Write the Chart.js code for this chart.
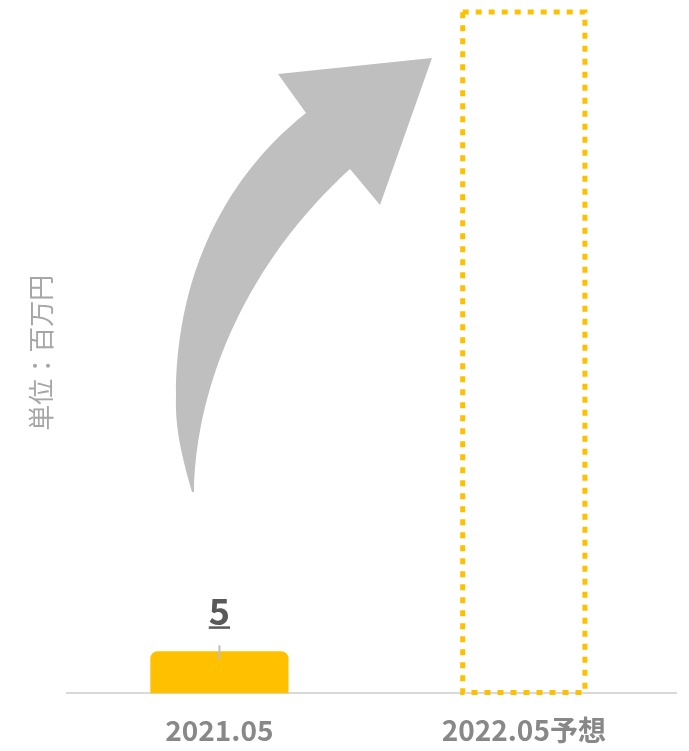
<!DOCTYPE html>
<html>
<head>
<meta charset="utf-8">
<script src="https://cdn.jsdelivr.net/npm/chart.js@4"></script>
<style>
  html, body { margin: 0; padding: 0; background: #fff; overflow: hidden; }
  canvas { display: block; }
</style>
</head>
<body>
<canvas id="chart" width="689" height="751"></canvas>
<script>
// データ
const categories = ["2021.05", "2022.05予想"];
const values = [5, 81];
const valueLabels = ["5", ""];
const yAxisTitle = "単位：百万円";

const GOLD = "#FFC000";
const FONT = "'Noto Sans CJK JP', 'Noto Sans', sans-serif";

/** 2本目（予想）を点線の枠で描く */
const dashedBarPlugin = {
  id: "dashedBar",
  afterDatasetsDraw(chart) {
    const meta = chart.getDatasetMeta(0);
    const el = meta.data[1];
    if (!el) return;
    const { x, y, base, width } = el.getProps(["x", "y", "base", "width"], true);
    const ctx = chart.ctx;
    const inset = 8;
    ctx.save();
    ctx.strokeStyle = GOLD;
    ctx.lineWidth = 5;
    ctx.setLineDash([6, 7]);
    ctx.strokeRect(x - width / 2 + inset, y, width - inset * 2, base - 1 - y);
    ctx.restore();
  },
};

/** 値ラベル（下線付き）と引き出し線 */
const valueLabelPlugin = {
  id: "valueLabel",
  afterDatasetsDraw(chart) {
    const meta = chart.getDatasetMeta(0);
    const ctx = chart.ctx;
    meta.data.forEach((el, i) => {
      const text = valueLabels[i];
      if (!text) return;
      const { x, y } = el.getProps(["x", "y"], true);
      ctx.save();
      // 引き出し線
      ctx.strokeStyle = "#bfbfbf";
      ctx.lineWidth = 2;
      ctx.beginPath();
      ctx.moveTo(x, y - 6);
      ctx.lineTo(x, y + 8);
      ctx.stroke();
      // ラベル
      ctx.fillStyle = "#595959";
      ctx.font = "bold 36px " + FONT;
      ctx.textAlign = "center";
      ctx.textBaseline = "alphabetic";
      const by = y - 26;
      ctx.fillText(text, x, by);
      const w = ctx.measureText(text).width;
      ctx.fillRect(x - w / 2, by + 1, w, 2.5);
      ctx.restore();
    });
  },
};

/** 灰色の曲がった矢印 */
const arrowPlugin = {
  id: "curvedArrow",
  beforeDatasetsDraw(chart) {
    const ctx = chart.ctx;
    ctx.save();
    ctx.fillStyle = "#bfbfbf";
    ctx.beginPath();
    ctx.moveTo(192, 492);
    ctx.bezierCurveTo(180, 450, 175, 425, 176, 395);
    ctx.bezierCurveTo(176, 290, 215, 185, 306, 113);
    ctx.lineTo(278, 74);
    ctx.lineTo(432, 58);
    ctx.lineTo(380, 205);
    ctx.lineTo(350, 169);
    ctx.bezierCurveTo(250, 260, 196, 380, 194, 492);
    ctx.closePath();
    ctx.fill();
    ctx.restore();
  },
};

const ctx = document.getElementById("chart").getContext("2d");
new Chart(ctx, {
  type: "bar",
  data: {
    labels: categories,
    datasets: [
      {
        data: values,
        backgroundColor: [GOLD, "rgba(0,0,0,0)"],
        borderWidth: 0,
        borderRadius: { topLeft: 7, topRight: 7, bottomLeft: 0, bottomRight: 0 },
        borderSkipped: "bottom",
        categoryPercentage: 1,
        barPercentage: 0.454,
      },
    ],
  },
  options: {
    responsive: false,
    animation: false,
    layout: {
      padding: { left: 0, right: 13, top: 12, bottom: -16 },
    },
    scales: {
      x: {
        grid: { display: false, drawTicks: false },
        border: { display: true, color: "#d9d9d9", width: 2 },
        ticks: {
          color: "#888888",
          padding: 20,
          font: { family: FONT, size: 28, weight: "bold" },
        },
      },
      y: {
        min: 0,
        max: 81,
        grid: { display: false, drawTicks: false },
        border: { display: false },
        ticks: { display: false },
        title: {
          display: true,
          text: yAxisTitle,
          color: "#a6a6a6",
          padding: { top: 26, bottom: 10 },
          font: { family: FONT, size: 26, weight: "normal" },
        },
      },
    },
    plugins: {
      legend: { display: false },
      tooltip: { enabled: false },
    },
  },
  plugins: [arrowPlugin, dashedBarPlugin, valueLabelPlugin],
});
</script>
</body>
</html>
